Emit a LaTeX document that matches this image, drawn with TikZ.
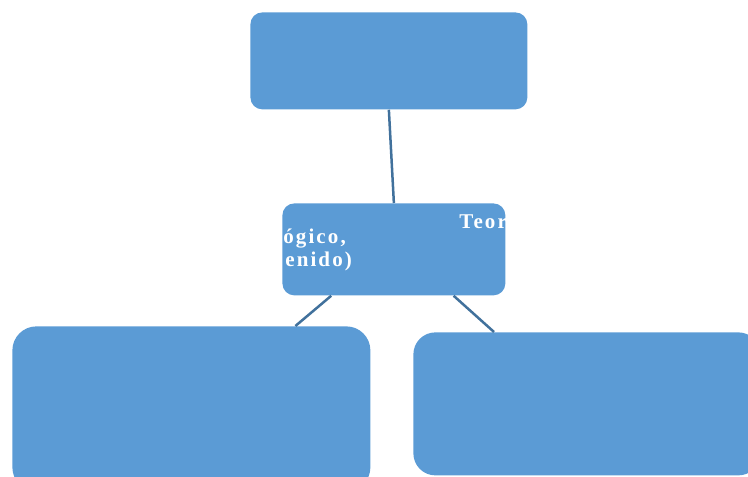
\documentclass[tikz,border=0pt]{standalone}
\usepackage{fontspec}
\setmainfont{Liberation Serif}
\usetikzlibrary{calc}
\definecolor{boxblue}{RGB}{91,155,213}
\definecolor{lineblue}{RGB}{65,113,156}
\tikzset{every picture/.style={line width=0.75pt}}

\begin{document}
\begin{tikzpicture}[x=1pt,y=1pt,yscale=-1,xscale=1,
    box/.style={fill=boxblue, draw=none, rounded corners=12pt, inner sep=0pt, anchor=north west},
    link/.style={draw=lineblue, line width=2.5pt},
    boxtext/.style={text=white, inner sep=0pt, anchor=base west,
      font=\bfseries\fontsize{21}{24}\selectfont\addfontfeature{LetterSpace=10}}]
    \useasboundingbox (0,0) rectangle (748,477);

    %Shape: Rectangle [top]
    \node[box, minimum width=277pt, minimum height=97pt] (top) at (250,12) {};
    %Shape: Rectangle [mid]
    \node[box, minimum width=223pt, minimum height=92pt] (mid) at (282,203) {};
    %Shape: Rectangle [left]
    \node[box, rounded corners=24pt, minimum width=358pt, minimum height=165pt] (left) at (12,326) {};
    %Shape: Rectangle [right]
    \node[box, rounded corners=22pt, minimum width=347pt, minimum height=143pt] (right) at (413,332) {};

    %Straight Lines
    \draw[link] (top.south) -- (mid.north);
    \draw[link] ($(mid.south west)!0.22!(mid.south east)$) -- ($(left.north west)!0.79!(left.north east)$);
    \draw[link] ($(mid.south west)!0.767!(mid.south east)$) -- ($(right.north west)!0.233!(right.north east)$);

    % Text Node
    \node[boxtext] (t1) at (459,228) {Teor};
    % Text Node
    \node[boxtext] (t2) at (283,243) {ógico,};
    % Text Node
    \node[boxtext] (t3) at (285,266) {enido)};

\end{tikzpicture}
\end{document}
